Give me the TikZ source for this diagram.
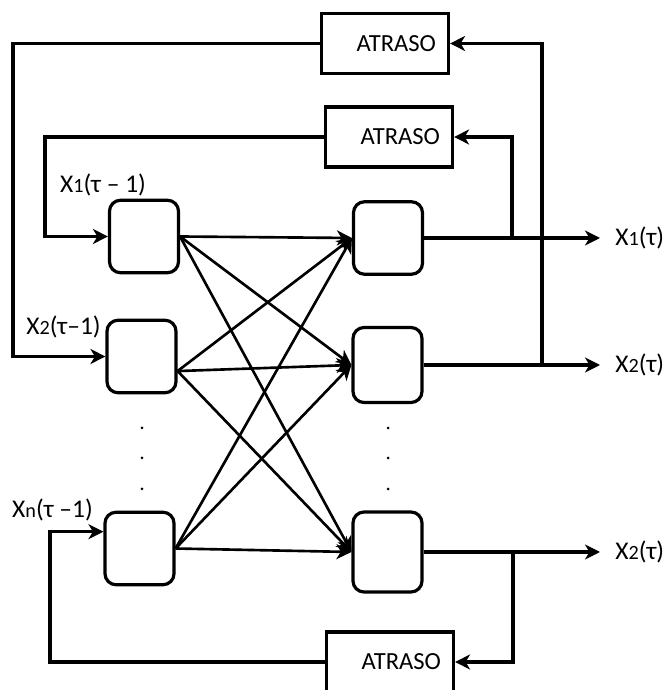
\documentclass[tikz,border=0pt]{standalone}
\usepackage{fontspec}
\setmainfont{Carlito}
\usetikzlibrary{arrows.meta}
\newcommand{\pequeno}[1]{{\fontsize{11.5}{13}\selectfont #1}}

\begin{document}
\begin{tikzpicture}[scale=1.0,
    neuronio/.style={draw, line width=1.8pt, rounded corners=0.22cm, minimum width=1.38cm, minimum height=1.45cm, inner sep=0pt},
    atraso/.style={draw, line width=1.8pt, minimum width=2.54cm, minimum height=1.2cm, text width=2.04cm, align=right, inner sep=0pt, font=\fontsize{14}{16}\selectfont},
    fio/.style={line width=1.8pt},
    seta/.style={-{Stealth[length=8.5pt, width=8.5pt, inset=2.5pt]}},
    rotulo/.style={font=\fontsize{14.5}{16}\selectfont, inner sep=0pt}]

    % Moldura
    \useasboundingbox (0, 0) rectangle (13.34, 13.8);
    \clip (0, 0) rectangle (13.34, 13.8);

    % Neuronios de entrada
    \node[neuronio] (l1) at (2.88, 9.07) {};
    \node[neuronio] (l2) at (2.83, 6.67) {};
    \node[neuronio] (ln) at (2.79, 2.83) {};

    % Neuronios de saida
    \node[neuronio] (r1) at (7.76, 9.04) {};
    \node[neuronio, minimum height=1.5cm] (r2) at (7.75, 6.50) {};
    \node[neuronio, minimum height=1.6cm] (r3) at (7.75, 2.76) {};

    % Blocos de atraso
    \node[atraso] (a1) at (7.70, 12.93) {ATRASO};
    \node[atraso] (a2) at (7.78, 11.06) {ATRASO};
    \node[atraso] (a3) at (7.80, 0.56) {ATRASO};

    % Ligacoes entre as camadas
    \foreach \a in {l1.east, l2.-22, ln.east}
        \foreach \b in {r1, r2, r3}
            \draw[fio, seta, line width=1.5pt] (\a) -- (\b.west);

    % Saidas
    \node[rotulo, anchor=west, inner xsep=0.3cm] (y1) at (12.0, 9.04) {X\pequeno{1}(τ)};
    \node[rotulo, anchor=west, inner xsep=0.3cm] (y2) at (12.0, 6.50) {X\pequeno{2}(τ)};
    \node[rotulo, anchor=west, inner xsep=0.3cm] (y3) at (12.0, 2.76) {X\pequeno{2}(τ)};
    \draw[fio, seta] (r1.east) -- (y1.west);
    \draw[fio, seta] (r2.east) -- (y2.west);
    \draw[fio, seta] (r3.east) -- (y3.west);

    % Realimentacao
    \coordinate (b1) at (10.24, 9.04);
    \coordinate (b2) at (10.84, 6.50);
    \coordinate (b3) at (10.26, 2.76);
    \draw[fio, seta] (b1) |- (a2.east);
    \draw[fio, seta] (b2) |- (a1.east);
    \draw[fio, seta] (b3) |- (a3.east);

    \coordinate (e1) at (0.26, 10);
    \coordinate (e2) at (0.90, 10);
    \coordinate (e3) at (1.00, 2);
    \draw[fio, seta] (a1.west) -| (e1) |- (l2.west);
    \draw[fio, seta] (a2.west) -| (e2) |- (l1.west);
    \draw[fio, seta] (a3.west) -| (e3) |- (ln.155);

    % Rotulos de entrada
    \node[rotulo] (x1) at (2.06, 10.1) {X\pequeno{1}(τ -- 1)};
    \node[rotulo] (x2) at (1.27, 7.26) {X\pequeno{2}(τ--1)};
    \node[rotulo] (xn) at (1.05, 3.6) {X\pequeno{n}(τ --1)};

    % Reticencias
    \foreach \y in {5.24, 4.64, 4.02} {
        \fill (2.84, \y) circle (0.03);
        \fill (7.76, \y) circle (0.03);
    }

\end{tikzpicture}
\end{document}
